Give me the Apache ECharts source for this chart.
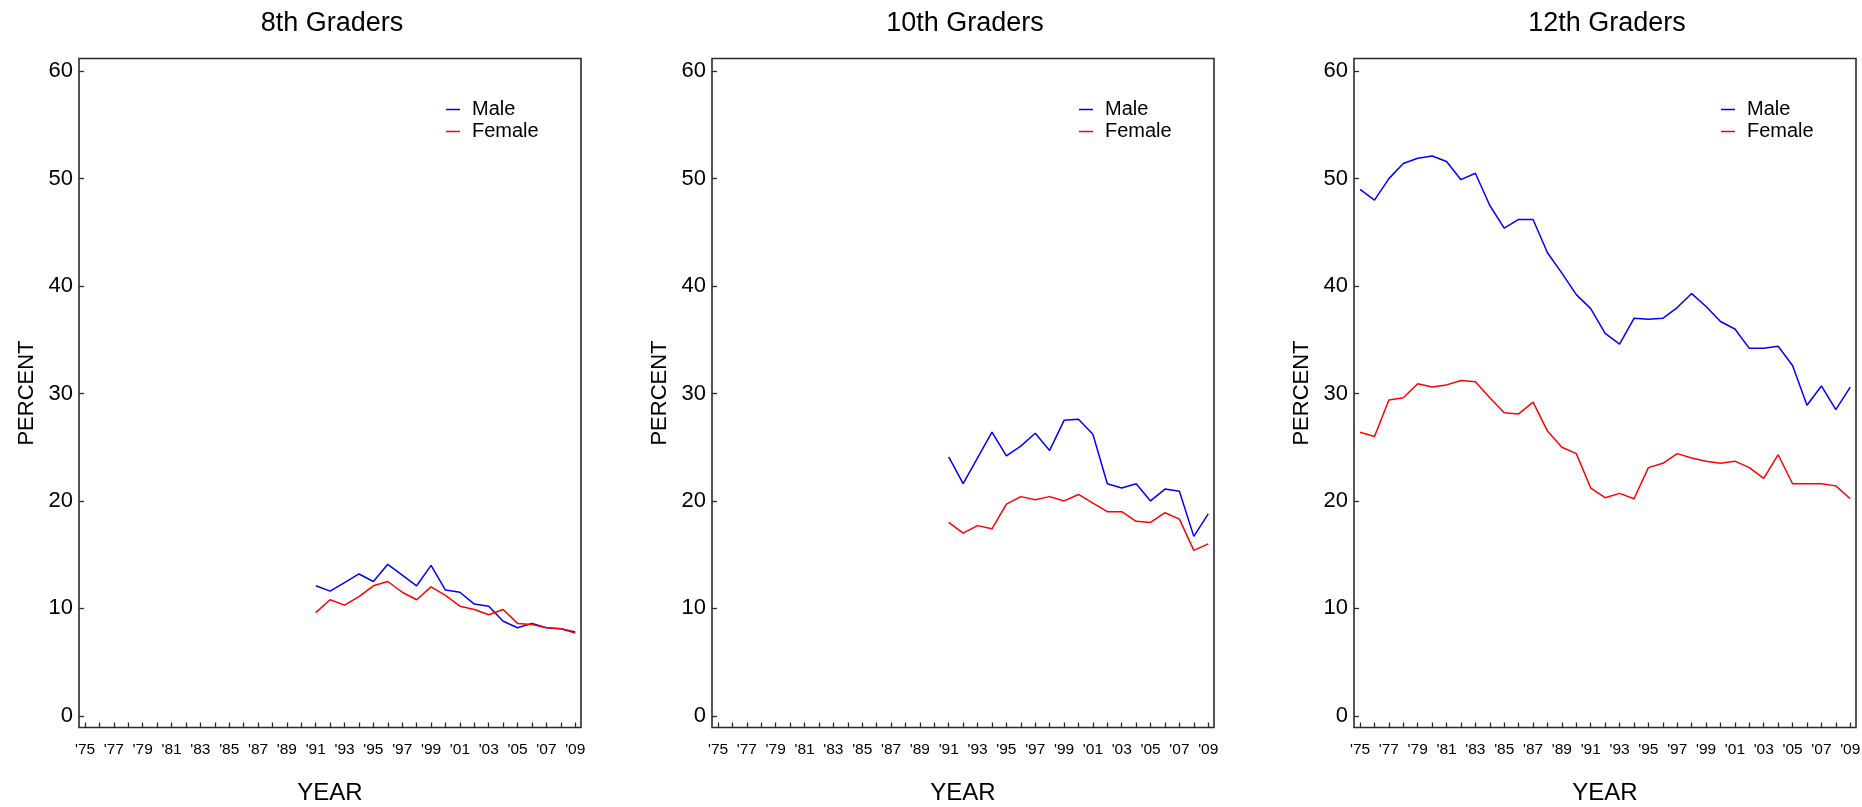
<!DOCTYPE html>
<html>
<head>
<meta charset="utf-8">
<script src="https://cdn.jsdelivr.net/npm/echarts@6/dist/echarts.min.js"></script>
<style>
html,body{margin:0;padding:0;background:#fff;}
#chart{width:1862px;height:807px;}
</style>
</head>
<body>
<div id="chart"></div>
<script>
// ---- data ----
const panelTitles = ['8th Graders', '10th Graders', '12th Graders'];
const allYears = [1975,1976,1977,1978,1979,1980,1981,1982,1983,1984,1985,1986,1987,1988,1989,1990,1991,1992,1993,1994,1995,1996,1997,1998,1999,2000,2001,2002,2003,2004,2005,2006,2007,2008,2009];
const labelYears = [1975,1977,1979,1981,1983,1985,1987,1989,1991,1993,1995,1997,1999,2001,2003,2005,2007,2009];
const percentTicks = [0,10,20,30,40,50,60];

const years8 = [1991,1992,1993,1994,1995,1996,1997,1998,1999,2000,2001,2002,2003,2004,2005,2006,2007,2008,2009];
const male8   = [12.1,11.6,12.4,13.2,12.5,14.1,13.1,12.1,14.0,11.7,11.5,10.4,10.2,8.8,8.2,8.6,8.2,8.1,7.8];
const female8 = [9.6,10.8,10.3,11.1,12.1,12.5,11.5,10.8,12.0,11.2,10.2,9.9,9.4,9.9,8.6,8.5,8.2,8.1,7.7];

const years10 = [1991,1992,1993,1994,1995,1996,1997,1998,1999,2000,2001,2002,2003,2004,2005,2006,2007,2008,2009];
const male10   = [24.1,21.6,24.0,26.4,24.2,25.1,26.3,24.7,27.5,27.6,26.2,21.6,21.2,21.6,20.0,21.1,20.9,16.7,18.8];
const female10 = [18.0,17.0,17.7,17.4,19.7,20.4,20.1,20.4,20.0,20.6,19.8,19.0,19.0,18.1,18.0,18.9,18.3,15.4,16.0];

const years12 = [1975,1976,1977,1978,1979,1980,1981,1982,1983,1984,1985,1986,1987,1988,1989,1990,1991,1992,1993,1994,1995,1996,1997,1998,1999,2000,2001,2002,2003,2004,2005,2006,2007,2008,2009];
const male12   = [49.0,48.0,50.0,51.4,51.9,52.1,51.6,49.9,50.5,47.5,45.4,46.2,46.2,43.1,41.2,39.2,37.9,35.6,34.6,37.0,36.9,37.0,38.0,39.3,38.1,36.7,36.0,34.2,34.2,34.4,32.6,28.9,30.7,28.5,30.6];
const female12 = [26.4,26.0,29.4,29.6,30.9,30.6,30.8,31.2,31.1,29.6,28.2,28.1,29.2,26.5,25.0,24.4,21.2,20.3,20.7,20.2,23.1,23.5,24.4,24.0,23.7,23.5,23.7,23.1,22.1,24.3,21.6,21.6,21.6,21.4,20.2];

const panelYears = [years8, years10, years12];
const panelMale = [male8, male10, male12];
const panelFemale = [female8, female10, female12];

// ---- layout ----
const FONT = '"Liberation Sans", Arial, Helvetica, sans-serif';
const gridLefts = [79, 712, 1354];
const gridTop = 58.5, gridW = 502, gridH = 669;
const frameColor = '#2b2b2b';

const grids = [], xAxes = [], yAxes = [], series = [], legends = [], graphics = [];
for (let i = 0; i < 3; i++) {
  grids.push({
    left: gridLefts[i], top: gridTop, width: gridW, height: gridH,
    show: true, borderColor: frameColor, borderWidth: 1.6, backgroundColor: 'transparent',
    outerBoundsMode: 'none', containLabel: false
  });
  xAxes.push({
    gridIndex: i, type: 'value', min: 1974.58, max: 2009.4, position: 'bottom',
    name: 'YEAR', nameLocation: 'middle', nameGap: 54,
    nameTextStyle: { fontFamily: FONT, fontSize: 24, color: '#000' },
    axisLine: { show: false, onZero: false },
    splitLine: { show: false },
    axisTick: { show: true, inside: true, length: 5, customValues: allYears,
      lineStyle: { color: frameColor, width: 1.3 } },
    axisLabel: { show: true, customValues: labelYears, margin: 14,
      fontFamily: FONT, fontSize: 15.5, color: '#000',
      formatter: v => "'" + String(v).slice(2) }
  });
  yAxes.push({
    gridIndex: i, type: 'value', min: -1.09, max: 61.18, position: 'left',
    name: 'PERCENT', nameLocation: 'middle', nameGap: 41, nameRotate: 90,
    nameTextStyle: { fontFamily: FONT, fontSize: 22, color: '#000' },
    axisLine: { show: false, onZero: false },
    splitLine: { show: false },
    axisTick: { show: true, inside: true, length: 5, customValues: percentTicks,
      lineStyle: { color: frameColor, width: 1.3 } },
    axisLabel: { show: true, customValues: percentTicks, margin: 6,
      fontFamily: FONT, fontSize: 22, color: '#000' }
  });
  const yrs = panelYears[i];
  series.push({
    name: 'Male', type: 'line', xAxisIndex: i, yAxisIndex: i,
    data: yrs.map((y, k) => [y, panelMale[i][k]]),
    showSymbol: false, symbol: 'none', lineStyle: { color: '#0000ff', width: 1.5 },
    itemStyle: { color: '#0000ff' }, animation: false
  });
  series.push({
    name: 'Female', type: 'line', xAxisIndex: i, yAxisIndex: i,
    data: yrs.map((y, k) => [y, panelFemale[i][k]]),
    showSymbol: false, symbol: 'none', lineStyle: { color: '#ff0000', width: 1.5 },
    itemStyle: { color: '#ff0000' }, animation: false
  });
  legends.push({
    data: ['Male', 'Female'], orient: 'vertical',
    left: gridLefts[i] + gridW - 135, top: 99.5, padding: 0,
    icon: 'rect', itemWidth: 14, itemHeight: 1.5, itemGap: 2,
    selectedMode: false,
    textStyle: { fontFamily: FONT, fontSize: 20, color: '#000', padding: [0, 0, 0, 7] }
  });
  graphics.push({
    type: 'text', x: gridLefts[i] + gridW / 2 + 2, y: 24,
    style: { text: panelTitles[i], font: '27px ' + FONT, fill: '#000',
      textAlign: 'center', textVerticalAlign: 'middle' }
  });
}

const chart = echarts.init(document.getElementById('chart'), null, { renderer: 'canvas' });
chart.setOption({
  backgroundColor: '#fff',
  animation: false,
  grid: grids,
  xAxis: xAxes,
  yAxis: yAxes,
  legend: legends,
  series: series,
  graphic: graphics
});
</script>
</body>
</html>
